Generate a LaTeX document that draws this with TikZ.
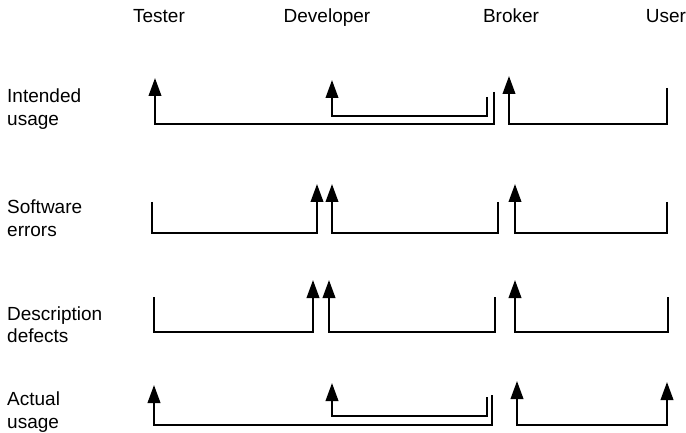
\documentclass[tikz,border=0pt]{standalone}
\usepackage{fontspec}
\setmainfont{Liberation Sans}
\usetikzlibrary{arrows.meta}
\begin{document}
\begin{tikzpicture}[x=1pt,y=-1pt,
  flow/.style={line width=2.3pt, -{Triangle[length=18pt,width=12.5pt]}},
  twoway/.style={line width=2.3pt, {Triangle[length=18pt,width=12.5pt]}-{Triangle[length=18pt,width=12.5pt]}},
  hdr/.style={font=\fontsize{19}{22}\selectfont, anchor=base, inner sep=0pt},
  rowlabel/.style={font=\fontsize{19}{22.5}\selectfont, align=left, anchor=base west, inner sep=0pt}]
\useasboundingbox (0,0) rectangle (686,433);

% column headings
\node[hdr] (tester) at (159,23) {Tester};
\node[hdr] (developer) at (327,23) {Developer};
\node[hdr] (broker) at (511,23) {Broker};
\node[hdr] (user) at (666,23) {User};

% row headings (anchored on the baseline of the second line)
\node[rowlabel] (intended) at (7,125.5) {Intended\\usage};
\node[rowlabel] (software) at (7,236.5) {Software\\errors};
\node[rowlabel] (description) at (7,342.5) {Description\\defects};
\node[rowlabel] (actual) at (7,428) {Actual\\usage};

% end points of the connectors
\coordinate (iuA) at (494,92);  \coordinate (iuB) at (155,78);
\coordinate (iuC) at (487,97);  \coordinate (iuD) at (332,80);
\coordinate (iuE) at (667,88);  \coordinate (iuF) at (509,76);

\coordinate (seA) at (152,202); \coordinate (seB) at (317,184);
\coordinate (seC) at (498,202); \coordinate (seD) at (332,184);
\coordinate (seE) at (667,202); \coordinate (seF) at (515,184);

\coordinate (ddA) at (154,297); \coordinate (ddB) at (313,280);
\coordinate (ddC) at (495,297); \coordinate (ddD) at (329,280);
\coordinate (ddE) at (668,297); \coordinate (ddF) at (515,280);

\coordinate (auA) at (492,395); \coordinate (auB) at (154,385);
\coordinate (auC) at (487,397); \coordinate (auD) at (332,383);
\coordinate (auE) at (517,381); \coordinate (auF) at (667,382);

% intended usage
\draw[flow] (iuA) -- (iuA |- 0,124) -| (iuB);
\draw[flow] (iuC) -- (iuC |- 0,116) -| (iuD);
\draw[flow] (iuE) -- (iuE |- 0,124) -| (iuF);

% software errors
\draw[flow] (seA) -- (seA |- 0,233) -| (seB);
\draw[flow] (seC) -- (seC |- 0,233) -| (seD);
\draw[flow] (seE) -- (seE |- 0,233) -| (seF);

% description defects
\draw[flow] (ddA) -- (ddA |- 0,332) -| (ddB);
\draw[flow] (ddC) -- (ddC |- 0,332) -| (ddD);
\draw[flow] (ddE) -- (ddE |- 0,332) -| (ddF);

% actual usage
\draw[flow] (auA) -- (auA |- 0,425) -| (auB);
\draw[flow] (auC) -- (auC |- 0,416) -| (auD);
\draw[twoway] (auE) -- (auE |- 0,425) -| (auF);
\end{tikzpicture}
\end{document}
